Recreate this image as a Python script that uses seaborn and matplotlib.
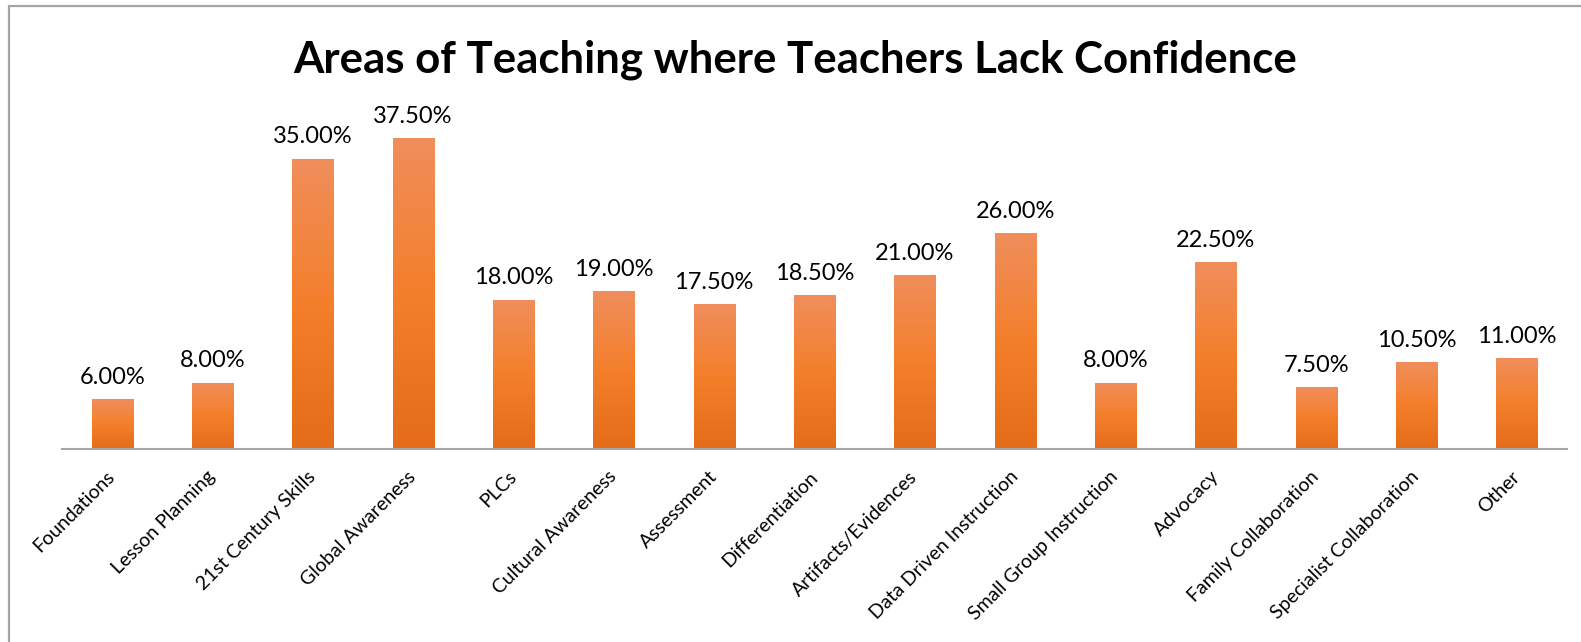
import matplotlib
matplotlib.use("Agg")
import matplotlib.pyplot as plt
import matplotlib.patches as mpatches
from matplotlib.colors import LinearSegmentedColormap
import numpy as np
import seaborn as sns

# chart data
categories = ["Foundations", "Lesson Planning", "21st Century Skills", "Global Awareness",
              "PLCs", "Cultural Awareness", "Assessment", "Differentiation",
              "Artifacts/Evidences", "Data Driven Instruction", "Small Group Instruction",
              "Advocacy", "Family Collaboration", "Specialist Collaboration", "Other"]
values = [6.0, 8.0, 35.0, 37.5, 18.0, 19.0, 17.5, 18.5, 21.0, 26.0, 8.0, 22.5, 7.5, 10.5, 11.0]
title = "Areas of Teaching where Teachers Lack Confidence"

sns.set_theme(style="white")
plt.rcParams["font.family"] = ["Lato", "DejaVu Sans"]

fig = plt.figure(figsize=(15.81, 6.42), dpi=100)
fig.patch.set_facecolor("white")

# chart border (only top and left edges fall inside the picture)
fig.add_artist(mpatches.Rectangle((9 / 1581, -0.1), 1.2, 0.1 + 1 - 6 / 642,
                                  transform=fig.transFigure, fill=False,
                                  edgecolor="#A6A6A6", linewidth=1.6))

ax = fig.add_axes([62 / 1581, 1 - 449 / 642, 1505 / 1581, 332 / 642])
sns.barplot(x=categories, y=values, color="#F47F2B", width=0.41, ax=ax, saturation=1)

# vertical orange gradient in each bar
grad = LinearSegmentedColormap.from_list("g", ["#E46C1A", "#F47F2B", "#F08E5C"])
ramp = np.linspace(0, 1, 256).reshape(-1, 1)
for p in ax.patches:
    x0, y0 = p.get_x(), p.get_y()
    w, h = p.get_width(), p.get_height()
    im = ax.imshow(ramp, cmap=grad, origin="lower", aspect="auto",
                   extent=[x0, x0 + w, y0, y0 + h], zorder=2)
    im.set_clip_path(p)
    p.set_facecolor("none")
    p.set_edgecolor("none")

ax.set_xlim(-0.5, len(categories) - 0.5)
ax.set_ylim(0, 40)
ax.bar_label(ax.containers[0], labels=[f"{v:.2f}%" for v in values],
             padding=8, fontsize=17, color="black")

ax.set_yticks([])
ax.set_ylabel("")
for s in ["top", "right", "left"]:
    ax.spines[s].set_visible(False)
ax.spines["bottom"].set_color("#A6A6A6")
ax.spines["bottom"].set_linewidth(1.5)
ax.tick_params(axis="x", length=0, pad=18)
plt.setp(ax.get_xticklabels(), rotation=45, ha="right", va="center",
         rotation_mode="anchor", fontsize=14, color="black")

fig.text(0.503, 1 - 72 / 642, title, ha="center", va="baseline",
         fontsize=31.5, fontweight="bold", color="black")

fig.savefig("out.png", dpi=100, facecolor="white")
